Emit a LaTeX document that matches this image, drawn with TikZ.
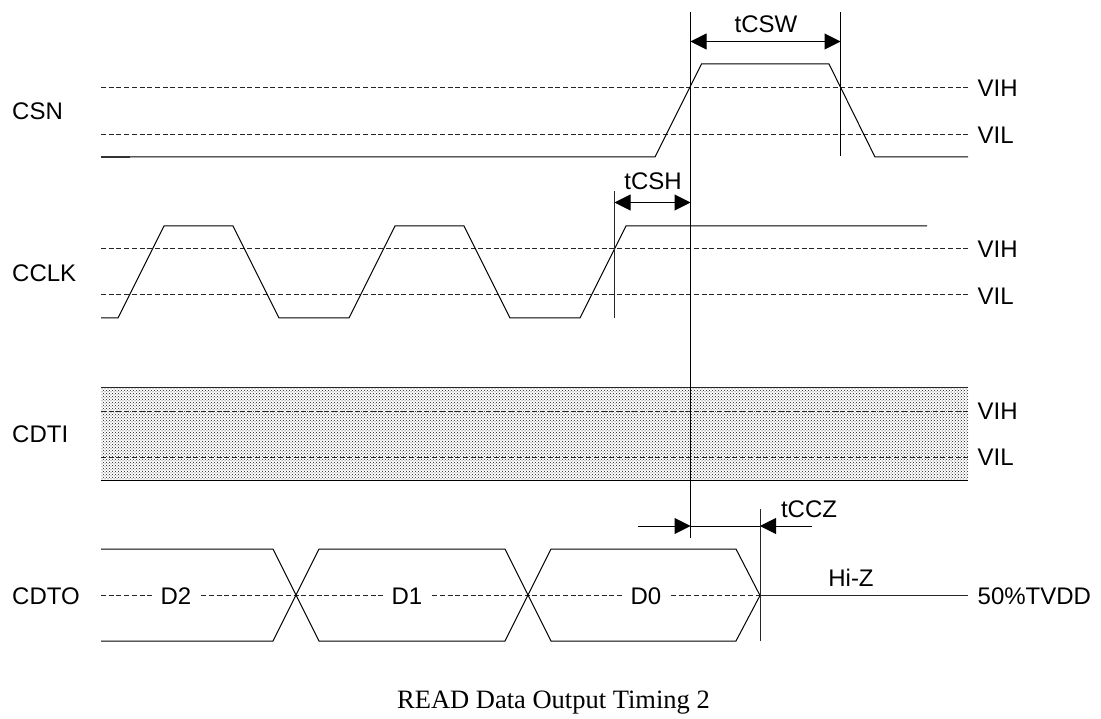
\documentclass[tikz,border=0pt]{standalone}
\usepackage{tikz}
\usepackage{xcolor}
\usepackage{fontspec}
\setmainfont{Liberation Serif}
\setsansfont{Liberation Sans}
\usetikzlibrary{arrows.meta}
\usetikzlibrary{patterns}
\tikzset{
  signal/.style={line width=1pt, black},
  level/.style={line width=1pt, dash pattern=on 5pt off 2.7pt, black!85},
  marker/.style={line width=1pt, black!85},
  measure/.style={line width=1pt, {Triangle[length=16pt,width=16pt]}-{Triangle[length=16pt,width=16pt]}},
  measureend/.style={line width=1pt, -{Triangle[length=16pt,width=16pt]}},
  lab/.style={font=\sffamily\fontsize{24pt}{26pt}\selectfont, inner sep=0pt, anchor=west},
  midlab/.style={font=\sffamily\fontsize{24pt}{26pt}\selectfont, inner sep=0pt},
  datalab/.style={midlab, fill=white, inner xsep=7pt, inner ysep=1pt}
}
\begin{document}
\begin{tikzpicture}[x=1pt, y=-1pt]
\useasboundingbox (0,0) rectangle (1101,719);
% Band zuerst, alles andere liegt darauf
\fill[pattern=crosshatch dots, pattern color=black!90] (101,388) rectangle (968,480);
\draw[marker] (101,388) -- (968,388);
\draw[signal] (101,480) -- (968,480);
% Pegel
\draw[level] (101,88) -- (968,88);
\draw[level] (101,134.5) -- (968,134.5);
\draw[level] (101,249) -- (968,249);
\draw[level] (101,295) -- (968,295);
\draw[level] (101,411) -- (968,411);
\draw[level] (101,457) -- (968,457);
\draw[level] (101,595.5) -- (760,595.5);
% Signale
\draw[signal] (101,157) -- (655,157) -- (701.5,64) -- (829,64) -- (875,157) -- (968,157);
\draw[line width=1.6pt, black!80] (101,157) -- (130,157);
\draw[signal] (101,318) -- (118,318) -- (164,226) -- (233,226) -- (279,318) -- (349,318) -- (395,226) -- (464,226) -- (510,318) -- (580,318) -- (626,226) -- (927,226);
\draw[signal] (101,549) -- (273,549) -- (319,641) -- (505,641) -- (551,549) -- (736,549) -- (760,595.5);
\draw[signal] (101,641) -- (273,641) -- (319,549) -- (505,549) -- (551,641) -- (736,641) -- (760,595.5);
\draw[marker] (760,595.5) -- (968,595.5);
% Hilfslinien
\coordinate (csw top) at (690.5,12);
\coordinate (ccz bottom) at (690.5,538);
\coordinate (csw end) at (840.5,12);
\coordinate (csw foot) at (840.5,156);
\coordinate (csh top) at (614.5,191);
\coordinate (csh foot) at (614.5,318);
\coordinate (ccz top) at (760,509);
\coordinate (ccz foot) at (760,641);
\draw[signal] (csw top) -- (ccz bottom);
\draw[signal] (csw end) -- (csw foot);
\draw[marker] (csh top) -- (csh foot);
\draw[marker] (ccz top) -- (ccz foot);
% Masspfeile
\coordinate (csw a) at (690.5,41.5);
\coordinate (csw b) at (840.5,41.5);
\coordinate (csh a) at (614.5,202.5);
\coordinate (csh b) at (690.5,202.5);
\coordinate (ccz a) at (638,526);
\coordinate (ccz b) at (690.5,526);
\coordinate (ccz c) at (760,526);
\coordinate (ccz d) at (812,526);
\draw[measure] (csw a) -- (csw b);
\draw[measure] (csh a) -- (csh b);
\draw[measureend] (ccz a) -- (ccz b);
\draw[signal] (ccz b) -- (ccz c);
\draw[measureend] (ccz d) -- (ccz c);
% Beschriftung
\node[lab] (csn) at (12,111) {CSN};
\node[lab] (cclk) at (12,273) {CCLK};
\node[lab] (cdti) at (12,434) {CDTI};
\node[lab] (cdto) at (12,596) {CDTO};
\node[lab] (vih a) at (977.5,88) {VIH};
\node[lab] (vil a) at (977.5,135) {VIL};
\node[lab] (vih b) at (977.5,249) {VIH};
\node[lab] (vil b) at (977.5,296) {VIL};
\node[lab] (vih c) at (977.5,411) {VIH};
\node[lab] (vil c) at (977.5,457) {VIL};
\node[lab] (tvdd) at (977.5,596) {50\%TVDD};
\node[midlab] (tcsw) at (766,24) {tCSW};
\node[midlab] (tcsh) at (653,181) {tCSH};
\node[midlab] (tccz) at (809,509) {tCCZ};
\node[midlab] (hiz) at (851,578) {Hi-Z};
\node[datalab] (d2) at (176,596) {D2};
\node[datalab] (d1) at (407,596) {D1};
\node[datalab] (d0) at (646,596) {D0};
\node[inner sep=0pt, font=\fontsize{26.5pt}{28pt}\selectfont] (title) at (553.5,702.5) {READ Data Output Timing 2};
\end{tikzpicture}
\end{document}
